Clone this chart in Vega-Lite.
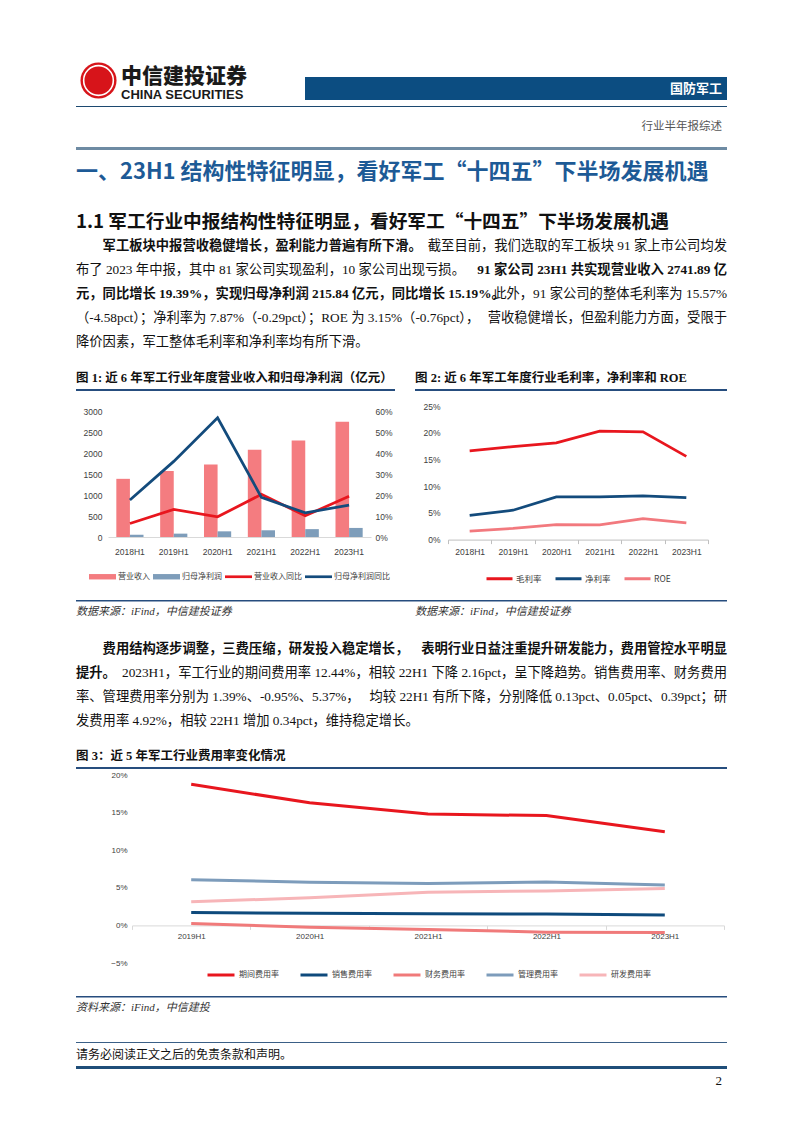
{
  "$schema": "https://vega.github.io/schema/vega-lite/v6.json",
  "background": "white",
  "padding": {"left": 76, "top": 55, "right": 75, "bottom": 40},
  "spacing": 0,
  "resolve": {"scale": {"color": "independent"}, "legend": {"color": "independent"}},
  "config": {
    "view": {"stroke": null},
    "text": {"font": "Liberation Serif, Noto Sans CJK SC", "fontSize": 13.3, "color": "#111111", "baseline": "middle"},
    "axis": {"labelFont": "Liberation Sans Narrow, Liberation Sans, Noto Sans CJK SC", "labelColor": "#404040", "labelFontSize": 8.5, "grid": false, "domainColor": "#D9D9D9", "tickColor": "#BFBFBF"},
    "legend": {"labelFont": "Noto Sans CJK SC", "labelColor": "#404040", "layout": {"bottom": {"anchor": "middle"}}}
  },
  "datasets": {
    "c1": [
      {"年份": "2018H1", "营业收入": 1385, "归母净利润": 55, "营业收入同比": 0.064, "归母净利润同比": 0.176},
      {"年份": "2019H1", "营业收入": 1570, "归母净利润": 80, "营业收入同比": 0.131, "归母净利润同比": 0.36},
      {"年份": "2020H1", "营业收入": 1725, "归母净利润": 135, "营业收入同比": 0.096, "归母净利润同比": 0.568},
      {"年份": "2021H1", "营业收入": 2080, "归母净利润": 160, "营业收入同比": 0.203, "归母净利润同比": 0.189},
      {"年份": "2022H1", "营业收入": 2296, "归母净利润": 187.4, "营业收入同比": 0.101, "归母净利润同比": 0.115},
      {"年份": "2023H1", "营业收入": 2741.89, "归母净利润": 215.84, "营业收入同比": 0.1939, "归母净利润同比": 0.1519}
    ],
    "c2": [
      {"年份": "2018H1", "毛利率": 0.166, "净利率": 0.0455, "ROE": 0.016},
      {"年份": "2019H1", "毛利率": 0.174, "净利率": 0.055, "ROE": 0.021},
      {"年份": "2020H1", "毛利率": 0.181, "净利率": 0.08, "ROE": 0.028},
      {"年份": "2021H1", "毛利率": 0.203, "净利率": 0.08, "ROE": 0.0275},
      {"年份": "2022H1", "毛利率": 0.2015, "净利率": 0.0816, "ROE": 0.0391},
      {"年份": "2023H1", "毛利率": 0.1557, "净利率": 0.0787, "ROE": 0.0315}
    ],
    "c3": [
      {"年份": "2019H1", "期间费用率": 0.1876, "销售费用率": 0.017, "财务费用率": 0.0025, "管理费用率": 0.0606, "研发费用率": 0.0314},
      {"年份": "2020H1", "期间费用率": 0.163, "销售费用率": 0.016, "财务费用率": -0.0025, "管理费用率": 0.0575, "研发费用率": 0.0367},
      {"年份": "2021H1", "期间费用率": 0.148, "销售费用率": 0.0155, "财务费用率": -0.0055, "管理费用率": 0.0558, "研发费用率": 0.0442},
      {"年份": "2022H1", "期间费用率": 0.146, "销售费用率": 0.0152, "财务费用率": -0.009, "管理费用率": 0.0576, "研发费用率": 0.0458},
      {"年份": "2023H1", "期间费用率": 0.1244, "销售费用率": 0.0139, "财务费用率": -0.0095, "管理费用率": 0.0537, "研发费用率": 0.0492}
    ],
    "body1": [
      {"line": "h1", "part": "start", "kind": "h1", "text": "一、23H1 结构性特征明显，看好军工“十四五”下半场发展机遇"},
      {"line": "h11", "part": "start", "kind": "h2", "text": "1.1 军工行业中报结构性特征明显，看好军工“十四五”下半场发展机遇"},
      {"line": "p1", "part": "start", "kind": "lead", "text": "军工板块中报营收稳健增长，盈利能力普遍有所下滑。"},
      {"line": "p1", "part": "end", "kind": "plain", "text": "截至目前，我们选取的军工板块 91 家上市公司均发"},
      {"line": "p2", "part": "start", "kind": "plain", "text": "布了 2023 年中报，其中 81 家公司实现盈利，10 家公司出现亏损。"},
      {"line": "p2", "part": "end", "kind": "bold", "text": "91 家公司 23H1 共实现营业收入 2741.89 亿"},
      {"line": "p3", "part": "start", "kind": "bold", "text": "元，同比增长 19.39%，实现归母净利润 215.84 亿元，同比增长 15.19%。"},
      {"line": "p3", "part": "end", "kind": "plain", "text": "此外，91 家公司的整体毛利率为 15.57%"},
      {"line": "p4", "part": "start", "kind": "plain", "text": "（-4.58pct）；净利率为 7.87%（-0.29pct）；ROE 为 3.15%（-0.76pct），"},
      {"line": "p4", "part": "end", "kind": "plain", "text": "营收稳健增长，但盈利能力方面，受限于"},
      {"line": "p5", "part": "start", "kind": "plain", "text": "降价因素，军工整体毛利率和净利率均有所下滑。"}
    ],
    "body2": [
      {"line": "q1", "part": "start", "kind": "lead", "text": "费用结构逐步调整，三费压缩，研发投入稳定增长，"},
      {"line": "q1", "part": "end", "kind": "bold", "text": "表明行业日益注重提升研发能力，费用管控水平明显"},
      {"line": "q2", "part": "start", "kind": "bold", "text": "提升。"},
      {"line": "q2", "part": "end", "kind": "plain", "text": "2023H1，军工行业的期间费用率 12.44%，相较 22H1 下降 2.16pct，呈下降趋势。销售费用率、财务费用"},
      {"line": "q3", "part": "start", "kind": "plain", "text": "率、管理费用率分别为 1.39%、-0.95%、5.37%，"},
      {"line": "q3", "part": "end", "kind": "plain", "text": "均较 22H1 有所下降，分别降低 0.13pct、0.05pct、0.39pct；研"},
      {"line": "q4", "part": "start", "kind": "plain", "text": "发费用率 4.92%，相较 22H1 增加 0.34pct，维持稳定增长。"}
    ]
  },
  "vconcat": [
    {
      "spacing": 0,
      "hconcat": [
        {
          "width": 45, "height": 51,
          "data": {"values": [{"emblem": "CITIC"}]},
          "layer": [
            {"mark": {"type": "circle", "size": 1300, "color": "#D7141A", "opacity": 1}, "encoding": {}},
            {"mark": {"type": "circle", "size": 880, "filled": false, "color": "white", "strokeWidth": 1.6, "opacity": 1}, "encoding": {}}
          ]
        },
        {
          "width": 184, "height": 51,
          "data": {"values": [{"line": "cn", "part": "start", "text": "中信建投证券"}, {"line": "en", "part": "start", "text": "CHINA SECURITIES"}]},
          "encoding": {
            "x": {"field": "part", "type": "nominal", "scale": {"type": "point", "domain": ["start", "end"], "padding": 0}, "axis": null},
            "y": {"field": "line", "type": "nominal", "scale": {"type": "band", "domain": ["cn", "en"], "paddingInner": 0, "paddingOuter": 0.4167, "align": 0.867}, "axis": null},
            "text": {"field": "text"}
          },
          "layer": [
            {"transform": [{"filter": "datum.line == 'cn'"}], "mark": {"type": "text", "align": "left", "font": "Noto Sans CJK SC", "fontWeight": 900, "fontSize": 21, "color": "#1A1A1A"}},
            {"transform": [{"filter": "datum.line == 'en'"}], "mark": {"type": "text", "align": "left", "font": "Liberation Sans", "fontWeight": "bold", "fontSize": 13, "color": "#1A1A1A"}}
          ]
        },
        {
          "spacing": 0,
          "vconcat": [
            {"width": 422, "height": 22, "data": {"values": []}, "mark": {"type": "text"}, "encoding": {}},
            {
              "width": 422, "height": 23,
              "view": {"fill": "#0C4D81", "stroke": null},
              "data": {"values": [{"part": "end", "text": "国防军工"}]},
              "mark": {"type": "text", "align": "right", "dx": -5, "font": "Noto Sans CJK SC", "fontWeight": "bold", "fontSize": 13, "color": "white"},
              "encoding": {
                "x": {"field": "part", "type": "nominal", "scale": {"type": "point", "domain": ["start", "end"], "padding": 0}, "axis": null},
                "text": {"field": "text"}
              }
            }
          ]
        }
      ]
    },
    {"width": 651, "height": 1, "view": {"fill": "#1C4970", "stroke": null}, "data": {"values": []}, "mark": {"type": "text"}, "encoding": {}},
    {
      "width": 651, "height": 40,
      "data": {"values": [{"part": "end", "text": "行业半年报综述"}]},
      "mark": {"type": "text", "align": "right", "dx": -5, "font": "Noto Sans CJK SC", "fontSize": 11.5, "color": "#555555"},
      "encoding": {
        "x": {"field": "part", "type": "nominal", "scale": {"type": "point", "domain": ["start", "end"], "padding": 0}, "axis": null},
        "text": {"field": "text"}
      }
    },
    {"width": 651, "height": 3, "view": {"fill": "#6E8BA3", "stroke": null}, "data": {"values": []}, "mark": {"type": "text"}, "encoding": {}},
    {
      "width": 651, "height": 216,
      "data": {"name": "body1"},
      "encoding": {
        "x": {"field": "part", "type": "nominal", "scale": {"type": "point", "domain": ["start", "end"], "padding": 0}, "axis": null},
        "y": {"field": "line", "type": "nominal", "scale": {"type": "band", "domain": ["h1", "gap", "h11", "p1", "p2", "p3", "p4", "p5"], "paddingInner": 0, "paddingOuter": 0.5}, "axis": null},
        "text": {"field": "text"}
      },
      "layer": [
        {"transform": [{"filter": "datum.kind == 'h1'"}], "mark": {"type": "text", "align": "left", "dy": -2, "font": "Noto Sans CJK SC", "fontWeight": "bold", "fontSize": 22, "color": "#1D5A96"}},
        {"transform": [{"filter": "datum.kind == 'h2'"}], "mark": {"type": "text", "align": "left", "font": "Noto Sans CJK SC", "fontWeight": "bold", "fontSize": 18.7, "color": "#111111"}},
        {"transform": [{"filter": "datum.kind == 'lead'"}], "mark": {"type": "text", "align": "left", "dx": 26.6, "fontWeight": "bold"}},
        {"transform": [{"filter": "datum.kind == 'bold' && datum.part == 'start'"}], "mark": {"type": "text", "align": "left", "fontWeight": "bold"}},
        {"transform": [{"filter": "datum.kind == 'bold' && datum.part == 'end'"}], "mark": {"type": "text", "align": "right", "fontWeight": "bold"}},
        {"transform": [{"filter": "datum.kind == 'plain' && datum.part == 'start'"}], "mark": {"type": "text", "align": "left"}},
        {"transform": [{"filter": "datum.kind == 'plain' && datum.part == 'end'"}], "mark": {"type": "text", "align": "right"}}
      ]
    },
    {
      "spacing": 20,
      "hconcat": [
        {
          "width": 319, "height": 23,
          "data": {"values": [{"part": "start", "text": "图 1: 近 6 年军工行业年度营业收入和归母净利润（亿元）"}]},
          "mark": {"type": "text", "align": "left", "fontWeight": "bold", "fontSize": 12.5, "color": "#111111"},
          "encoding": {
            "x": {"field": "part", "type": "nominal", "scale": {"type": "point", "domain": ["start", "end"], "padding": 0}, "axis": null},
            "text": {"field": "text"}
          }
        },
        {
          "width": 312, "height": 23,
          "data": {"values": [{"part": "start", "text": "图 2: 近 6 年军工年度行业毛利率，净利率和 ROE"}]},
          "mark": {"type": "text", "align": "left", "fontWeight": "bold", "fontSize": 12.5, "color": "#111111"},
          "encoding": {
            "x": {"field": "part", "type": "nominal", "scale": {"type": "point", "domain": ["start", "end"], "padding": 0}, "axis": null},
            "text": {"field": "text"}
          }
        }
      ]
    },
    {
      "spacing": 20,
      "hconcat": [
        {"width": 319, "height": 2, "view": {"fill": "#264D7E", "stroke": null}, "data": {"values": []}, "mark": {"type": "text"}, "encoding": {}},
        {"width": 312, "height": 2, "view": {"fill": "#264D7E", "stroke": null}, "data": {"values": []}, "mark": {"type": "text"}, "encoding": {}}
      ]
    },
    {
      "spacing": 20,
      "resolve": {"scale": {"color": "independent"}, "legend": {"color": "independent"}},
      "hconcat": [
        {
          "spacing": 0,
          "resolve": {"scale": {"color": "independent"}, "legend": {"color": "independent"}},
          "vconcat": [
            {"width": 319, "height": 15.2, "data": {"values": []}, "mark": {"type": "text"}, "encoding": {}},
            {
              "spacing": 0,
              "resolve": {"scale": {"color": "independent"}, "legend": {"color": "independent"}},
              "hconcat": [
                {"width": 6, "height": 126, "data": {"values": []}, "mark": {"type": "text"}, "encoding": {}},
                {
                  "width": 263, "height": 126,
                  "data": {"name": "c1"},
                  "layer": [
                    {
                      "transform": [{"fold": ["营业收入", "归母净利润"], "as": ["指标", "金额"]}],
                      "mark": {"type": "bar"},
                      "encoding": {
                        "x": {"field": "年份", "type": "nominal", "title": null, "scale": {"type": "band", "paddingInner": 0.38, "paddingOuter": 0.19}, "axis": {"labelAngle": 0, "ticks": false, "domainColor": "#D9D9D9", "labelPadding": 10}},
                        "xOffset": {"field": "指标", "type": "nominal", "sort": ["营业收入", "归母净利润"]},
                        "y": {"field": "金额", "type": "quantitative", "title": null, "scale": {"domain": [0, 3000]}, "axis": {"values": [0, 500, 1000, 1500, 2000, 2500, 3000], "format": "d", "domain": false, "ticks": false, "labelPadding": 6, "minExtent": 26, "maxExtent": 26}},
                        "color": {
                          "field": "指标", "type": "nominal",
                          "scale": {"domain": ["营业收入", "归母净利润", "营业收入同比", "归母净利润同比"], "range": ["#F47C80", "#7E9DBA", "#E8161E", "#134B7C"]},
                          "legend": {
                            "title": null, "orient": "bottom", "direction": "horizontal", "offset": 7,
                            "symbolType": "M-1,-0.2H1V0.2H-1Z", "symbolSize": 729, "symbolStrokeWidth": 0,
                            "labelFontSize": 8, "labelOffset": 2, "columnPadding": 3,
                            "encode": {"symbols": {"update": {"shape": {"signal": "indexof(datum.value, '同比') >= 0 ? 'M-1,-0.1H1V0.1H-1Z' : 'M-1,-0.2H1V0.2H-1Z'"}}}}
                          }
                        }
                      }
                    },
                    {
                      "transform": [{"fold": ["营业收入同比", "归母净利润同比"], "as": ["指标", "增速"]}],
                      "mark": {"type": "line", "strokeWidth": 2.75},
                      "encoding": {
                        "x": {"field": "年份", "type": "nominal"},
                        "y": {"field": "增速", "type": "quantitative", "title": null, "scale": {"domain": [0, 0.6]}, "axis": {"orient": "right", "values": [0, 0.1, 0.2, 0.3, 0.4, 0.5, 0.6], "format": ".0%", "domain": false, "ticks": false, "labelPadding": 4, "minExtent": 24, "maxExtent": 24}},
                        "color": {"field": "指标", "type": "nominal"}
                      }
                    }
                  ],
                  "resolve": {"scale": {"y": "independent"}}
                }
              ]
            }
          ]
        },
        {
          "spacing": 0,
          "resolve": {"scale": {"color": "independent"}, "legend": {"color": "independent"}},
          "vconcat": [
            {"width": 312, "height": 10.3, "data": {"values": []}, "mark": {"type": "text"}, "encoding": {}},
            {
              "spacing": 0,
              "resolve": {"scale": {"color": "independent"}, "legend": {"color": "independent"}},
              "hconcat": [
                {"width": 7, "height": 133.6, "data": {"values": []}, "mark": {"type": "text"}, "encoding": {}},
                {
                  "width": 260, "height": 133.6,
                  "data": {"name": "c2"},
                  "transform": [{"fold": ["毛利率", "净利率", "ROE"], "as": ["指标", "比率"]}],
                  "mark": {"type": "line", "strokeWidth": 2.75},
                  "encoding": {
                    "x": {"field": "年份", "type": "nominal", "title": null, "scale": {"type": "band", "paddingInner": 0, "paddingOuter": 0}, "axis": {"labelAngle": 0, "tickBand": "extent", "ticks": true, "tickSize": 4, "tickColor": "#BFBFBF", "domainColor": "#BFBFBF", "labelPadding": 4}},
                    "y": {"field": "比率", "type": "quantitative", "title": null, "scale": {"domain": [0, 0.25]}, "axis": {"values": [0, 0.05, 0.1, 0.15, 0.2, 0.25], "format": ".0%", "domain": false, "ticks": false, "labelPadding": 8, "minExtent": 26, "maxExtent": 26}},
                    "color": {
                      "field": "指标", "type": "nominal",
                      "scale": {"domain": ["毛利率", "净利率", "ROE"], "range": ["#E8161E", "#134B7C", "#F2797E"]},
                      "legend": {"title": null, "orient": "bottom", "direction": "horizontal", "offset": 7, "symbolType": "stroke", "symbolStrokeWidth": 3, "symbolSize": 676, "labelFontSize": 8.5, "labelOffset": 2, "columnPadding": 7}
                    }
                  }
                }
              ]
            },
            {"width": 312, "height": 15, "data": {"values": []}, "mark": {"type": "text"}, "encoding": {}}
          ]
        }
      ]
    },
    {"width": 651, "height": 1.5, "view": {"fill": "#264D7E", "stroke": null}, "data": {"values": []}, "mark": {"type": "text"}, "encoding": {}},
    {
      "spacing": 20,
      "hconcat": [
        {
          "width": 319, "height": 20.5,
          "data": {"values": [{"part": "start", "text": "数据来源：iFind，中信建投证券"}]},
          "mark": {"type": "text", "align": "left", "fontStyle": "italic", "fontSize": 11, "color": "#333333"},
          "encoding": {
            "x": {"field": "part", "type": "nominal", "scale": {"type": "point", "domain": ["start", "end"], "padding": 0}, "axis": null},
            "text": {"field": "text"}
          }
        },
        {
          "width": 312, "height": 20.5,
          "data": {"values": [{"part": "start", "text": "数据来源：iFind，中信建投证券"}]},
          "mark": {"type": "text", "align": "left", "fontStyle": "italic", "fontSize": 11, "color": "#333333"},
          "encoding": {
            "x": {"field": "part", "type": "nominal", "scale": {"type": "point", "domain": ["start", "end"], "padding": 0}, "axis": null},
            "text": {"field": "text"}
          }
        }
      ]
    },
    {
      "width": 651, "height": 122,
      "data": {"name": "body2"},
      "encoding": {
        "x": {"field": "part", "type": "nominal", "scale": {"type": "point", "domain": ["start", "end"], "padding": 0}, "axis": null},
        "y": {"field": "line", "type": "nominal", "scale": {"type": "band", "domain": ["q1", "q2", "q3", "q4"], "paddingInner": 0, "paddingOuter": 0.5417, "align": 0.538}, "axis": null},
        "text": {"field": "text"}
      },
      "layer": [
        {"transform": [{"filter": "datum.kind == 'lead'"}], "mark": {"type": "text", "align": "left", "dx": 26.6, "fontWeight": "bold"}},
        {"transform": [{"filter": "datum.kind == 'bold' && datum.part == 'start'"}], "mark": {"type": "text", "align": "left", "fontWeight": "bold"}},
        {"transform": [{"filter": "datum.kind == 'bold' && datum.part == 'end'"}], "mark": {"type": "text", "align": "right", "fontWeight": "bold"}},
        {"transform": [{"filter": "datum.kind == 'plain' && datum.part == 'start'"}], "mark": {"type": "text", "align": "left"}},
        {"transform": [{"filter": "datum.kind == 'plain' && datum.part == 'end'"}], "mark": {"type": "text", "align": "right"}}
      ]
    },
    {
      "width": 651, "height": 22,
      "data": {"values": [{"part": "start", "text": "图 3：近 5 年军工行业费用率变化情况"}]},
      "mark": {"type": "text", "align": "left", "fontWeight": "bold", "fontSize": 12.5, "color": "#111111"},
      "encoding": {
        "x": {"field": "part", "type": "nominal", "scale": {"type": "point", "domain": ["start", "end"], "padding": 0}, "axis": null},
        "text": {"field": "text"}
      }
    },
    {"width": 651, "height": 2, "view": {"fill": "#264D7E", "stroke": null}, "data": {"values": []}, "mark": {"type": "text"}, "encoding": {}},
    {
      "spacing": 0,
      "resolve": {"scale": {"color": "independent"}, "legend": {"color": "independent"}},
      "vconcat": [
        {"width": 651, "height": 2, "data": {"values": []}, "mark": {"type": "text"}, "encoding": {}},
        {
          "spacing": 0,
          "resolve": {"scale": {"color": "independent"}, "legend": {"color": "independent"}},
          "hconcat": [
            {"width": 30, "height": 188, "data": {"values": []}, "mark": {"type": "text"}, "encoding": {}},
            {
              "width": 592, "height": 188,
              "data": {"name": "c3"},
              "transform": [{"fold": ["期间费用率", "销售费用率", "财务费用率", "管理费用率", "研发费用率"], "as": ["指标", "费用率"]}],
              "mark": {"type": "line", "strokeWidth": 3},
              "encoding": {
                "x": {"field": "年份", "type": "nominal", "title": null, "scale": {"type": "band", "paddingInner": 0, "paddingOuter": 0}, "axis": {"labelAngle": 0, "offset": -37.6, "tickBand": "extent", "ticks": true, "tickSize": 4, "labelPadding": 3, "labelFont": "Liberation Sans", "labelFontSize": 8, "domainColor": "#D9D9D9", "tickColor": "#D9D9D9"}},
                "y": {"field": "费用率", "type": "quantitative", "title": null, "scale": {"domain": [-0.05, 0.2]}, "axis": {"values": [-0.05, 0, 0.05, 0.1, 0.15, 0.2], "format": ".0%", "domain": false, "ticks": false, "labelPadding": 5, "labelFont": "Liberation Sans", "labelFontSize": 8, "minExtent": 26, "maxExtent": 26}},
                "color": {
                  "field": "指标", "type": "nominal",
                  "scale": {"domain": ["期间费用率", "销售费用率", "财务费用率", "管理费用率", "研发费用率"], "range": ["#E8161E", "#0E4A7C", "#F07A7A", "#7D9CBB", "#F7B5B8"]},
                  "legend": {"title": null, "orient": "bottom", "direction": "horizontal", "offset": -3, "symbolType": "stroke", "symbolStrokeWidth": 3, "symbolSize": 729, "labelFontSize": 8, "labelOffset": 3, "columnPadding": 15}
                }
              }
            }
          ]
        },
        {"width": 651, "height": 14.6, "data": {"values": []}, "mark": {"type": "text"}, "encoding": {}}
      ]
    },
    {"width": 651, "height": 1.5, "view": {"fill": "#264D7E", "stroke": null}, "data": {"values": []}, "mark": {"type": "text"}, "encoding": {}},
    {
      "width": 651, "height": 20.5,
      "data": {"values": [{"part": "start", "text": "资料来源：iFind，中信建投"}]},
      "mark": {"type": "text", "align": "left", "fontStyle": "italic", "fontSize": 11, "color": "#333333"},
      "encoding": {
        "x": {"field": "part", "type": "nominal", "scale": {"type": "point", "domain": ["start", "end"], "padding": 0}, "axis": null},
        "text": {"field": "text"}
      }
    },
    {"width": 651, "height": 23, "data": {"values": []}, "mark": {"type": "text"}, "encoding": {}},
    {"width": 651, "height": 1, "view": {"fill": "#3A5F86", "stroke": null}, "data": {"values": []}, "mark": {"type": "text"}, "encoding": {}},
    {
      "width": 651, "height": 23,
      "data": {"values": [{"part": "start", "text": "请务必阅读正文之后的免责条款和声明。"}]},
      "mark": {"type": "text", "align": "left", "fontSize": 12, "color": "#111111"},
      "encoding": {
        "x": {"field": "part", "type": "nominal", "scale": {"type": "point", "domain": ["start", "end"], "padding": 0}, "axis": null},
        "text": {"field": "text"}
      }
    },
    {"width": 651, "height": 3, "view": {"fill": "#1F4E79", "stroke": null}, "data": {"values": []}, "mark": {"type": "text"}, "encoding": {}},
    {
      "width": 651, "height": 24,
      "data": {"values": [{"part": "end", "text": "2"}]},
      "mark": {"type": "text", "align": "right", "dx": -5, "fontSize": 13, "color": "#111111"},
      "encoding": {
        "x": {"field": "part", "type": "nominal", "scale": {"type": "point", "domain": ["start", "end"], "padding": 0}, "axis": null},
        "text": {"field": "text"}
      }
    }
  ]
}
